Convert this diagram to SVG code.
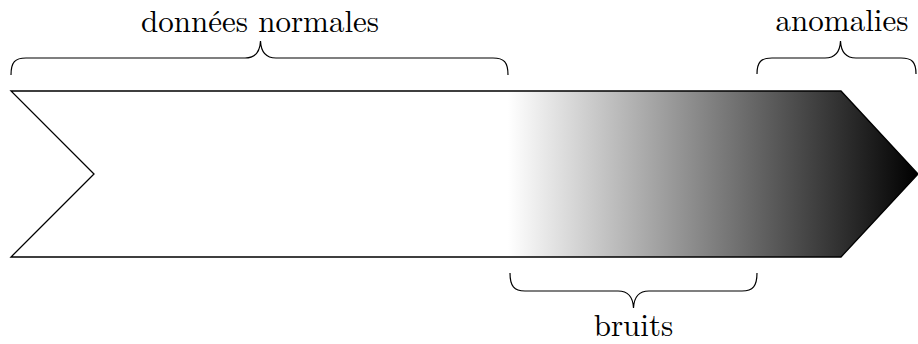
<svg xmlns="http://www.w3.org/2000/svg" width="918" height="344" viewBox="0 0 918 344">
<style>
.lbl{font-family:"Latin Modern Roman","Liberation Serif","DejaVu Serif",serif;font-size:31px;fill:#000;text-anchor:middle}
.brace{fill:none;stroke:#000;stroke-width:1.2}
</style>
<defs>
<linearGradient id="g" gradientUnits="userSpaceOnUse" x1="508" y1="0" x2="918" y2="0">
<stop offset="0" stop-color="#fff"/>
<stop offset="1" stop-color="#000"/>
</linearGradient>
</defs>
<rect width="918" height="344" fill="#fff"/>
<g id="arrow">
<polygon points="11,91 841,91 918,174 841,257 11,257 94,174" fill="url(#g)" stroke="#000" stroke-width="1.3" stroke-linejoin="miter"/>
</g>
<g id="connectors">
<path class="brace" d="M11,75 C11,62 15,58 26,58 L245,58 C255,58 260,52 260.5,41 C261,52 266,58 276,58 L493,58 C504,58 508,62 508,75"/>
<path class="brace" d="M757,74 C757,62 761,58 772,58 L825,58 C835,58 840,52 840.5,41 C841,52 846,58 856,58 L901,58 C912,58 916,62 916,74"/>
<path class="brace" d="M510,273 C510,286 514,291 525,291 L618,291 C628,291 633,297 633.5,308 C634,297 639,291 649,291 L742,291 C753,291 757,286 757,273"/>
</g>
<g id="label-normales"><text class="lbl" x="260" y="31.5">données normales</text></g>
<g id="label-anomalies"><text class="lbl" x="842" y="31">anomalies</text></g>
<g id="label-bruits"><text class="lbl" x="633.5" y="336">bruits</text></g>
</svg>
